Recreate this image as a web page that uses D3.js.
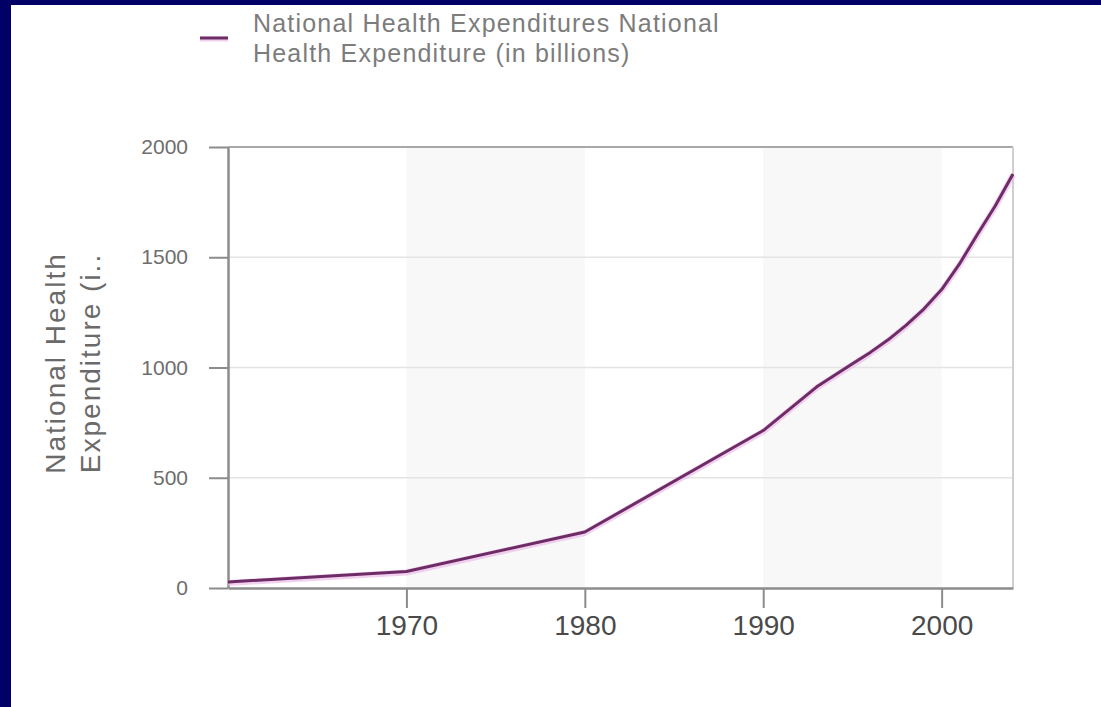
<!DOCTYPE html>
<html>
<head>
<meta charset="utf-8">
<script src="https://cdn.jsdelivr.net/npm/d3@7"></script>
<style>
  html, body { margin: 0; padding: 0; background: #ffffff; }
  svg { display: block; }
  text { font-family: "Liberation Sans", Arial, Helvetica, sans-serif; }
</style>
</head>
<body>
<script>
// ---- data ----
const years = [1960, 1970, 1980, 1990, 1993, 1995, 1996, 1997, 1998, 1999, 2000, 2001, 2002, 2003, 2004];
const expenditure = [27.5, 74.9, 253.9, 714.0, 912.5, 1016.5, 1068.5, 1125.4, 1190.9, 1265.0, 1353.3, 1469.6, 1603.4, 1732.4, 1877.6];
const xTickValues = [1970, 1980, 1990, 2000];
const yTickValues = [0, 500, 1000, 1500, 2000];
const bandRanges = [[1970, 1980], [1990, 2000]];
const legendLines = ["National Health Expenditures National", "Health Expenditure (in billions)"];
const yTitleLines = ["National Health", "Expenditure (i.."];

const W = 1101, H = 707;
const svg = d3.select("body").append("svg").attr("width", W).attr("height", H);

// frame
svg.append("rect").attr("width", W).attr("height", H).attr("fill", "#000066");
svg.append("rect").attr("x", 11).attr("y", 5).attr("width", W - 11).attr("height", H - 5).attr("fill", "#ffffff");

const x = d3.scaleLinear().domain([1960, 2004]).range([228, 1013]);
const y = d3.scaleLinear().domain([0, 2000]).range([588, 147]);

// bands
svg.append("g").selectAll("rect").data(bandRanges).join("rect")
  .attr("x", d => x(d[0])).attr("width", d => x(d[1]) - x(d[0]))
  .attr("y", y(2000)).attr("height", y(0) - y(2000))
  .attr("fill", "#f8f8f8");

// grid lines
svg.append("g").selectAll("line").data(yTickValues.filter(v => v > 0 && v < 2000)).join("line")
  .attr("x1", x(1960)).attr("x2", x(2004))
  .attr("y1", d => y(d)).attr("y2", d => y(d))
  .attr("stroke", "#e4e4e4").attr("stroke-width", 1.5);

// top and right borders
svg.append("line").attr("x1", x(1960)).attr("x2", x(2004)).attr("y1", y(2000)).attr("y2", y(2000))
  .attr("stroke", "#a8a8a8").attr("stroke-width", 2);
svg.append("line").attr("x1", x(2004)).attr("x2", x(2004)).attr("y1", y(2000)).attr("y2", y(0))
  .attr("stroke", "#d0d0d0").attr("stroke-width", 2);

// y axis
const yAxis = svg.append("g").attr("transform", `translate(${x(1960)},0)`)
  .call(d3.axisLeft(y).tickValues(yTickValues).tickFormat(d3.format("d")).tickSize(19).tickSizeOuter(0).tickPadding(21));
yAxis.select(".domain").attr("stroke", "#8c8c8c").attr("stroke-width", 2.5);
yAxis.selectAll(".tick line").attr("stroke", "#8c8c8c").attr("stroke-width", 2);
yAxis.selectAll(".tick text").attr("fill", "#6e6e6e").style("font-size", "21px");

// x axis
const xAxis = svg.append("g").attr("transform", `translate(0,${y(0)})`)
  .call(d3.axisBottom(x).tickValues(xTickValues).tickFormat(d3.format("d")).tickSize(20).tickSizeOuter(0).tickPadding(7));
xAxis.select(".domain").attr("stroke", "#8c8c8c").attr("stroke-width", 2.5);
xAxis.selectAll(".tick line").attr("stroke", "#8c8c8c").attr("stroke-width", 2);
xAxis.selectAll(".tick text").attr("fill", "#4a4a4a").style("font-size", "28px");

// line
const pts = years.map((yr, i) => [yr, expenditure[i]]);
const line = d3.line().x(d => x(d[0])).y(d => y(d[1]));
svg.append("path").datum(pts).attr("d", line)
  .attr("fill", "none").attr("stroke", "#eab8e6").attr("stroke-width", 6)
  .attr("stroke-linejoin", "round").attr("transform", "translate(0,1)").attr("opacity", 0.65);
svg.append("path").datum(pts).attr("d", line)
  .attr("fill", "none").attr("stroke", "#6e2c66").attr("stroke-width", 3)
  .attr("stroke-linejoin", "round");

// legend
svg.append("line").attr("x1", 200).attr("x2", 228).attr("y1", 39).attr("y2", 39)
  .attr("stroke", "#eab8e6").attr("stroke-width", 5).attr("opacity", 0.65);
svg.append("line").attr("x1", 200).attr("x2", 228).attr("y1", 38).attr("y2", 38)
  .attr("stroke", "#6e2c66").attr("stroke-width", 3);
svg.append("g").selectAll("text").data(legendLines).join("text")
  .attr("x", 253).attr("y", (d, i) => 32 + i * 29.5)
  .attr("fill", "#7c7c7c").style("font-size", "25px").style("letter-spacing", "1.2px")
  .text(d => d);

// y title
svg.append("g").selectAll("text").data(yTitleLines).join("text")
  .attr("transform", (d, i) => `translate(${65 + i * 35},363) rotate(-90)`)
  .attr("text-anchor", "middle")
  .attr("fill", "#6a6a6a").style("font-size", "28px").style("letter-spacing", "2px")
  .text(d => d);
</script>
</body>
</html>
